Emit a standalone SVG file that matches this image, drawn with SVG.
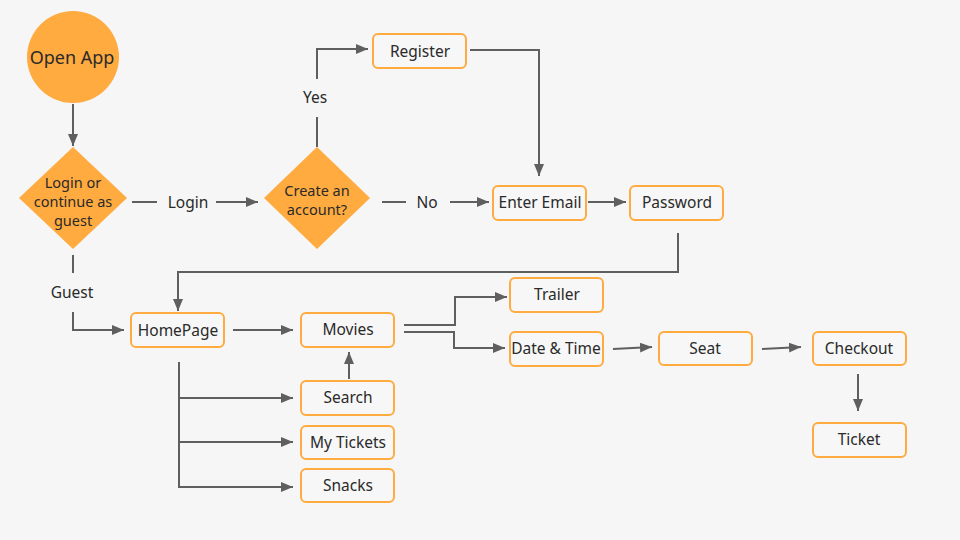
<svg xmlns="http://www.w3.org/2000/svg" width="960" height="540" viewBox="0 0 960 540">
<defs>
<marker id="arr" viewBox="0 0 12 10" refX="12" refY="5" markerWidth="12" markerHeight="10" markerUnits="userSpaceOnUse" orient="auto">
<path d="M0,0 L12,5 L0,10 z" fill="#5f5f5f"/>
</marker>
<style>
.box{fill:#f7f7f7;stroke:#ffab40;stroke-width:2}
.shape{fill:#ffab40}
.t{font-family:"Noto Sans","Liberation Sans",sans-serif;font-size:15.5px;fill:#2a2a2a;text-anchor:middle;dominant-baseline:central}
.d{font-size:14.5px}
.c{fill:none;stroke:#5f5f5f;stroke-width:2}
.a{marker-end:url(#arr)}
</style>
</defs>
<rect width="960" height="540" fill="#f6f6f6"/>
<g id="connectors">
<path class="c a" d="M73,104 V146"/>
<path class="c" d="M132,202 H157"/>
<text class="t" x="188" y="202">Login</text>
<path class="c a" d="M216,202 H258"/>
<path class="c" d="M317,147 V117"/>
<text class="t" x="315" y="97">Yes</text>
<path class="c a" d="M317,79 V49 H368"/>
<path class="c a" d="M470,50 H539 V176"/>
<path class="c" d="M382,202 H406"/>
<text class="t" x="427" y="202">No</text>
<path class="c a" d="M450,202 H489"/>
<path class="c a" d="M588,202 H626"/>
<path class="c a" d="M678,233 V272 H178 V311"/>
<path class="c" d="M73,255 V273"/>
<text class="t" x="72" y="292">Guest</text>
<path class="c a" d="M73,312 V330 H124"/>
<path class="c a" d="M233,330 H293"/>
<path class="c a" d="M179,362 V487 H293"/>
<path class="c a" d="M179,398 H293"/>
<path class="c a" d="M179,442 H293"/>
<path class="c a" d="M349,379 V352"/>
<path class="c a" d="M404,325 H455 V297 H507"/>
<path class="c a" d="M404,332 H454 V348 H505"/>
<path class="c a" d="M613,349 L652,347"/>
<path class="c a" d="M762,349 L801,347"/>
<path class="c a" d="M858,374 V411"/>
</g>
<g id="open-app">
<circle class="shape" cx="73" cy="57" r="46"/>
<text class="t" x="72" y="57" style="font-size:18px">Open App</text>
</g>
<g id="login-or-guest">
<polygon class="shape" points="73,147 127,198 73,249 19,198"/>
<text class="t d" x="73" y="182">Login or</text>
<text class="t d" x="73" y="201">continue as</text>
<text class="t d" x="73" y="220">guest</text>
</g>
<g id="create-account">
<polygon class="shape" points="317,147 370,198 317,249 264,198"/>
<text class="t d" x="317" y="190">Create an</text>
<text class="t d" x="317" y="209">account?</text>
</g>
<g id="register">
<rect class="box" x="373" y="34" width="93" height="34" rx="5"/>
<text class="t" x="420" y="51">Register</text>
</g>
<g id="enter-email">
<rect class="box" x="493" y="186" width="93" height="34" rx="5"/>
<text class="t" x="540" y="202">Enter Email</text>
</g>
<g id="password">
<rect class="box" x="630" y="186" width="93" height="34" rx="5"/>
<text class="t" x="677" y="202">Password</text>
</g>
<g id="homepage">
<rect class="box" x="131" y="313" width="93" height="34" rx="5"/>
<text class="t" x="178" y="330">HomePage</text>
</g>
<g id="movies">
<rect class="box" x="301" y="313" width="93" height="34" rx="5"/>
<text class="t" x="348" y="329">Movies</text>
</g>
<g id="search">
<rect class="box" x="301" y="381" width="93" height="34" rx="5"/>
<text class="t" x="348" y="397">Search</text>
</g>
<g id="my-tickets">
<rect class="box" x="301" y="426" width="93" height="33" rx="5"/>
<text class="t" x="348" y="442">My Tickets</text>
</g>
<g id="snacks">
<rect class="box" x="301" y="469" width="93" height="33" rx="5"/>
<text class="t" x="348" y="485">Snacks</text>
</g>
<g id="trailer">
<rect class="box" x="510" y="278" width="93" height="34" rx="5"/>
<text class="t" x="557" y="294">Trailer</text>
</g>
<g id="date-time">
<rect class="box" x="510" y="332" width="93" height="34" rx="5"/>
<text class="t" x="556" y="348">Date &amp; Time</text>
</g>
<g id="seat">
<rect class="box" x="659" y="332" width="93" height="33" rx="5"/>
<text class="t" x="705" y="348">Seat</text>
</g>
<g id="checkout">
<rect class="box" x="813" y="332" width="93" height="33" rx="5"/>
<text class="t" x="859" y="348">Checkout</text>
</g>
<g id="ticket">
<rect class="box" x="813" y="423" width="93" height="34" rx="5"/>
<text class="t" x="859" y="439">Ticket</text>
</g>
</svg>
